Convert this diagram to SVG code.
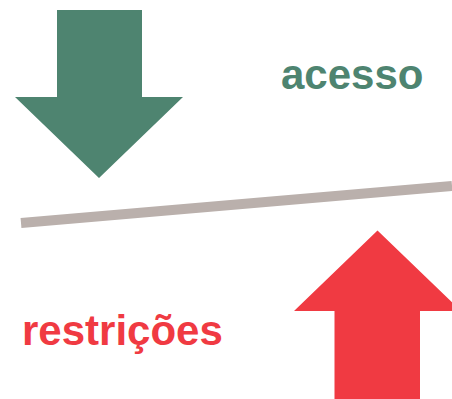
<svg xmlns="http://www.w3.org/2000/svg" width="452" height="399" viewBox="0 0 452 399">
<style>
.lbl{font-family:"Liberation Sans",Arial,sans-serif;font-weight:bold;font-size:42px}
</style>
<rect width="452" height="399" fill="#ffffff"/>
<g id="arrow-down">
<polygon points="57,10 142,10 142,97 183,97 99,178 15,97 57,97" fill="#4E8470"/>
</g>
<g id="label-acesso">
<text class="lbl" x="281" y="89" fill="#4E8470">acesso</text>
</g>
<g id="connectors">
<line x1="21" y1="223" x2="452" y2="186" stroke="#BAB0AC" stroke-width="10"/>
</g>
<g id="arrow-up">
<polygon points="377.5,230.5 461,311 420,311 420,399 334.5,399 334.5,311 294,311" fill="#F03A42"/>
</g>
<g id="label-restricoes">
<text class="lbl" x="22" y="345" fill="#F03A42">restrições</text>
</g>
</svg>
